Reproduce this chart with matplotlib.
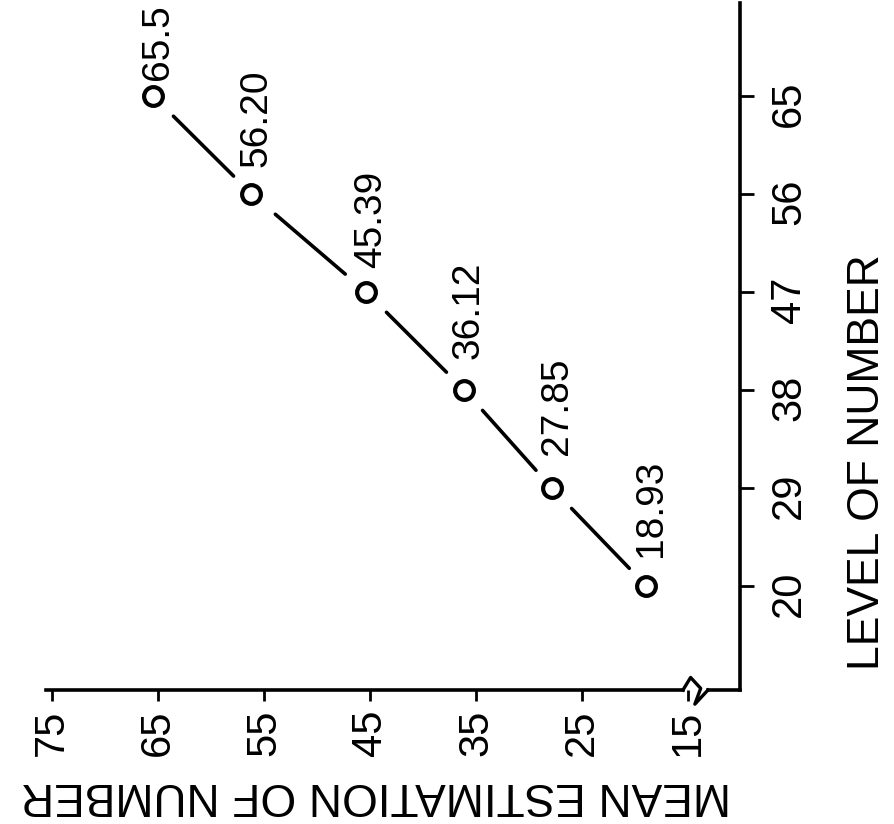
import matplotlib
matplotlib.use("Agg")
import matplotlib.pyplot as plt

plt.rcParams.update({
    "font.family": ["Liberation Sans", "DejaVu Sans"],
    "figure.facecolor": "white",
    "axes.facecolor": "white",
    "text.color": "black",
})

# data (chart is drawn turned on its side, like the scanned original)
levels = [20, 29, 38, 47, 56, 65]
estimates = [18.93, 27.85, 36.12, 45.39, 56.20, 65.5]
point_labels = ["18.93", "27.85", "36.12", "45.39", "56.20", "65.5"]
level_ticks = [20, 29, 38, 47, 56, 65]
estimate_ticks = [15, 25, 35, 45, 55, 65, 75]

# gap (points) between each circle and the start of its value label
label_gaps = [21, 24, 22, 17, 19, 11]

W, H, DPI = 895, 824, 100
SPINE_LW = 2.6
fig = plt.figure(figsize=(W / DPI, H / DPI), dpi=DPI)
ax = fig.add_axes([46 / W, 134 / H, 694 / W, 687 / H])

# estimate runs right-to-left along the bottom, level runs up the right side
xmax, xmin = 75.57, 10.09
ylo, yhi = 10.45, 73.5
ax.set_xlim(xmax, xmin)
ax.set_ylim(ylo, yhi)

for side in ("top", "left"):
    ax.spines[side].set_visible(False)
for side in ("right", "bottom"):
    ax.spines[side].set_linewidth(SPINE_LW)

# bottom axis is broken just past 15
brk_lo, brk_hi = 13.11, 15.47
ax.spines["bottom"].set_bounds(brk_hi, xmax)
ax.plot([brk_lo, xmin], [ylo, ylo], color="black", lw=SPINE_LW,
        clip_on=False, solid_capstyle="projecting")
ax.plot([brk_hi, 14.75, 13.8, 14.35, brk_lo],
        [ylo, ylo + 1.15, ylo + 0.15, ylo - 1.3, ylo],
        color="black", lw=2.4, clip_on=False, solid_joinstyle="round")

ax.yaxis.tick_right()
ax.set_yticks(level_ticks)
ax.set_xticks(estimate_ticks)
ax.tick_params(axis="y", direction="out", length=10, width=2, pad=11,
               labelsize=30, labelrotation=90)
ax.tick_params(axis="x", direction="out", length=8, width=2, pad=6,
               labelsize=30, labelrotation=90)

# broken connecting segments between the points
for i in range(len(levels) - 1):
    x0, x1 = estimates[i], estimates[i + 1]
    y0, y1 = levels[i], levels[i + 1]
    ax.plot([x0 + 0.18 * (x1 - x0), x0 + 0.79 * (x1 - x0)],
            [y0 + 0.18 * (y1 - y0), y0 + 0.79 * (y1 - y0)],
            color="black", lw=2.6, solid_capstyle="round")

ax.plot(estimates, levels, "o", ms=13.5, mfc="white", mec="black", mew=3,
        zorder=3)

for e, l, t, gap in zip(estimates, levels, point_labels, label_gaps):
    ax.annotate(t, (e, l), xytext=(3.5, gap), textcoords="offset points",
                rotation=90, rotation_mode="anchor", ha="left", va="center",
                fontsize=28)

ax.set_xlabel("MEAN ESTIMATION OF NUMBER", fontsize=33, rotation=180)
ax.xaxis.set_label_coords(0.475, -0.153)
ax.xaxis.label.set_va("center")

ax.yaxis.set_label_position("right")
ax.set_ylabel("LEVEL OF NUMBER", fontsize=32, rotation=90)
ax.yaxis.set_label_coords(1.184, 0.332)
ax.yaxis.label.set_va("center")
ax.yaxis.label.set_ha("center")

fig.savefig("out.png", dpi=DPI)
plt.close(fig)
